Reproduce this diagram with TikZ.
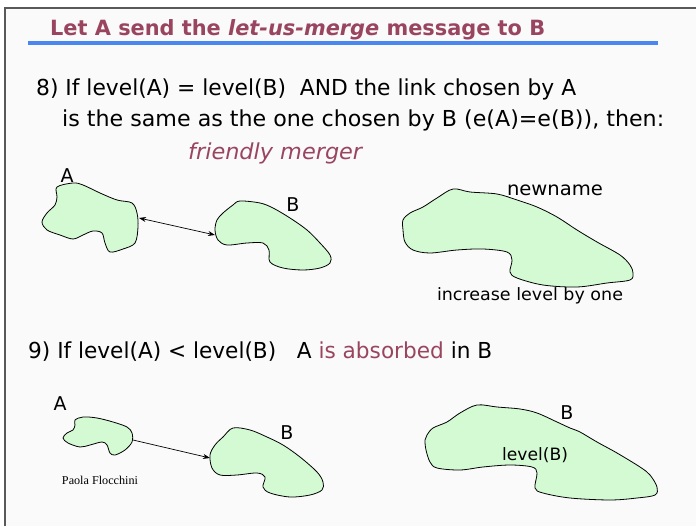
\documentclass[tikz,border=0pt]{standalone}
\usepackage{fontspec}
\usepackage{graphicx}
\setmainfont{DejaVu Sans}
\newfontfamily\serifpf{Liberation Serif}
\usetikzlibrary{arrows.meta}
\definecolor{maroon}{HTML}{9A4560}
\definecolor{blob}{HTML}{D4FAD4}
\definecolor{rule}{HTML}{4A86F0}
\definecolor{bg}{HTML}{FAFAFA}
\newcommand{\fitw}[2]{\resizebox{#1pt}{\height}{#2}}
\tikzset{
  x=1pt,y=-1pt,
  blobshape/.style={draw=black,line width=0.8pt,fill=blob},
  body/.style={anchor=base west,inner sep=0pt,font=\fontsize{22}{26}\selectfont},
  lbl/.style={inner sep=0pt,font=\fontsize{19}{22}\selectfont},
  link/.style={line width=0.7pt,-{Stealth[length=7pt,width=5pt]}},
}
\begin{document}
\begin{tikzpicture}
\useasboundingbox (0,0) rectangle (696,526);
\fill[white] (0,0) rectangle (696,526);
\fill[bg] (5,8) rectangle (696,526);
\draw[gray!70!black,line width=1.2pt] (5,526) -- (5,8) -- (696,8);
% title
\node[anchor=base west,inner sep=0pt,text=maroon,font=\fontsize{21}{24}\selectfont\bfseries] (title) at (50,36) {\fitw{495}{Let A send the \textit{let-us-merge} message to B}};
\fill[rule] (28,41.5) rectangle (658,45);
% text
\node[body] (l1) at (36,96) {\fitw{540}{8) If level(A) = level(B)\ \ AND the link chosen by A}};
\node[body] (l2) at (62,127) {\fitw{602}{is the same as the one chosen by B (e(A)=e(B)), then:}};
\node[body,text=maroon,font=\fontsize{22}{26}\selectfont\itshape] (fm) at (188,160) {\fitw{174}{friendly merger}};
% blob A1
\draw[blobshape] plot[smooth cycle,tension=0.55] coordinates {
(57,187) (73,183) (83,185) (100,193) (117,200) (132,203) (137,213) (138,227) (135,243) (123,249) (110,252) (105,243) (102,233) (93,231) (83,235) (73,239) (60,235) (47,230) (42,222) (47,213) (55,205) (57,197)};
\node[lbl] (la1) at (67,176) {A};
% blob B1
\draw[blobshape] plot[smooth cycle,tension=0.55] coordinates {
(217,220) (223,213) (233,205) (240,201) (260,203) (273,208) (290,218) (307,230) (320,243) (330,255) (330,263) (320,268) (303,270) (283,268) (270,262) (269,250) (263,243) (247,243) (227,245) (218,240) (215,230)};
\node[lbl] (lb1) at (293,205) {B};
\coordinate (a1e) at (139,218);
\coordinate (b1e) at (215,235);
\draw[link,{Stealth[length=7pt,width=5pt]}-{Stealth[length=7pt,width=5pt]}] (a1e) -- (b1e);
% merged blob
\draw[blobshape] plot[smooth cycle,tension=0.55] coordinates {
(403,220) (410,213) (423,207) (437,198) (453,189) (470,192) (497,194) (517,200) (537,207) (557,217) (577,230) (597,242) (620,255) (630,265) (633,273) (630,280) (607,283) (577,287) (543,285) (517,278) (510,272) (512,260) (507,252) (483,249) (457,250) (430,253) (413,250) (405,242) (403,230)};
\node[lbl] (nn) at (555,190) {\fitw{96}{newname}};
\node[inner sep=0pt,font=\fontsize{17}{20}\selectfont] (inc) at (530,296) {\fitw{186}{increase level by one}};
% rule 9
\node[body] (l9) at (28,359) {\fitw{464}{9) If level(A) < level(B)\ \ \ A \textcolor{maroon}{is absorbed} in B}};
% blob A2
\draw[blobshape] plot[smooth cycle,tension=0.55] coordinates {
(75,420) (83,417) (97,418) (113,422) (127,427) (132,433) (132,442) (125,450) (115,455) (110,453) (107,445) (102,442) (90,445) (80,447) (68,443) (63,438) (67,433) (73,430) (75,425)};
\node[lbl] (la2) at (60,404) {A};
% blob B2
\draw[blobshape] plot[smooth cycle,tension=0.55] coordinates {
(210,455) (215,445) (223,437) (233,428) (250,430) (267,437) (283,445) (300,457) (317,472) (323,482) (322,490) (310,495) (290,497) (270,493) (263,487) (265,477) (257,473) (237,475) (220,475) (212,468)};
\node[lbl] (lb2) at (287,433) {B};
\coordinate (a2e) at (133,440);
\coordinate (b2e) at (210,458);
\draw[link] (a2e) -- (b2e);
% absorbed blob
\draw[blobshape] plot[smooth cycle,tension=0.55] coordinates {
(427,435) (433,428) (447,422) (460,413) (477,405) (497,407) (520,409) (537,413) (557,422) (570,428) (580,432) (597,442) (617,453) (640,467) (650,475) (657,487) (655,495) (637,498) (610,500) (570,498) (543,493) (535,488) (537,473) (532,467) (510,465) (483,467) (460,470) (437,468) (430,462) (426,450) (425,440)};
\node[lbl] (lb3) at (567,413) {B};
\node[inner sep=0pt,font=\fontsize{17}{20}\selectfont] (lvl) at (535,455) {\fitw{66}{level(B)}};
\node[inner sep=0pt,font=\serifpf\fontsize{12}{14}\selectfont] (pf) at (100,480) {\fitw{76}{Paola Flocchini}};
\end{tikzpicture}
\end{document}
